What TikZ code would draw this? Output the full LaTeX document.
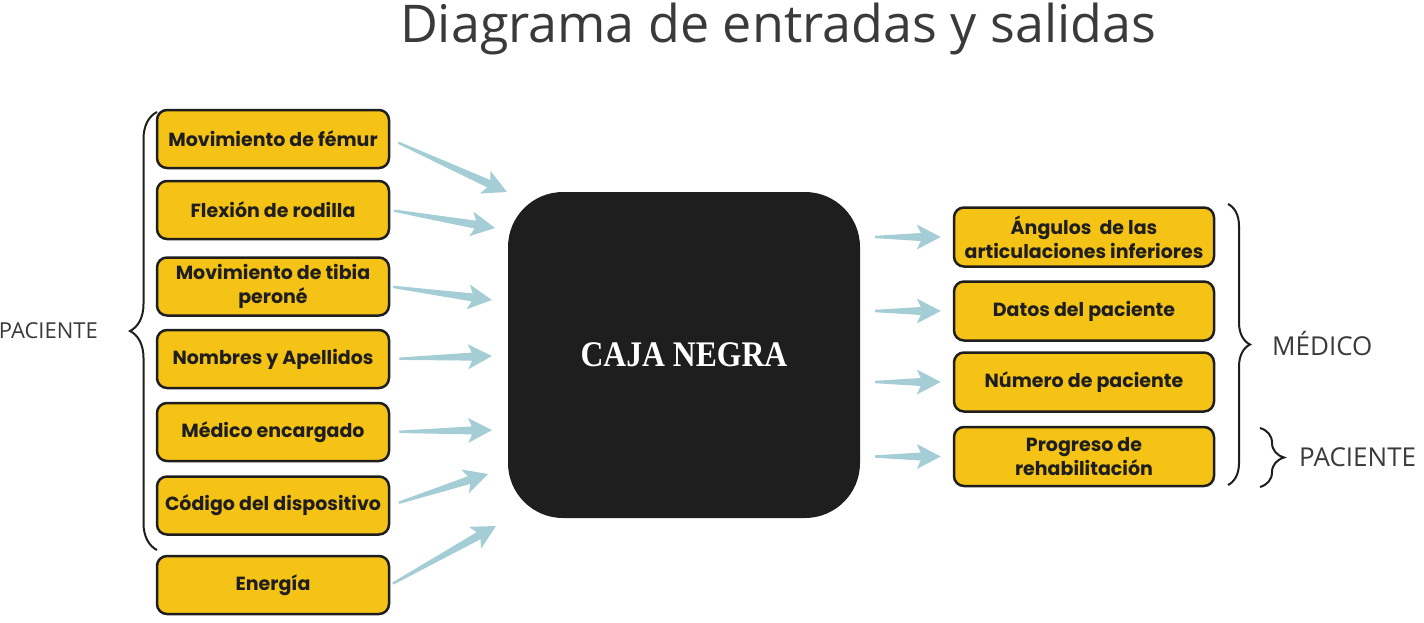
\documentclass[tikz,border=0pt]{standalone}
\usepackage{fontspec}
\setmainfont{Open Sans}
\newfontfamily\labelfont{Poppins}
\newfontfamily\cajafont[FakeStretch=0.88]{Liberation Serif}
\usetikzlibrary{calc,positioning,decorations.pathreplacing}
\definecolor{gold}{HTML}{F5C216}
\definecolor{ink}{HTML}{1E1E1E}
\definecolor{feedblue}{HTML}{A5CDD5}
\definecolor{greytext}{HTML}{3A3A3A}
\tikzset{
  inbox/.style={draw=ink,fill=gold,line width=2.5pt,rounded corners=10pt,
    minimum width=232pt,minimum height=58pt,align=center,inner sep=0pt,
    text=ink,font=\labelfont\bfseries\fontsize{19}{24}\selectfont},
  outbox/.style={inbox,minimum width=260pt,minimum height=59pt},
  blackbox/.style={fill=ink,rounded corners=55pt,minimum width=352pt,
    minimum height=326pt,text=white,font=\cajafont\bfseries\fontsize{36}{40}\selectfont},
  sidelabel/.style={text=greytext,inner sep=0pt,font=\fontsize{26}{30}\selectfont},
  bracket/.style={draw=ink,line width=2pt,decorate,decoration={brace,amplitude=#1}},
  feed/.style 2 args={to path={let \p1=($(\tikztostart)!#1!(\tikztotarget)$),
    \p2=($(\tikztotarget)!#2!(\tikztostart)$),\n1={atan2(\y2-\y1,\x2-\x1)} in
    ($(\p1)+({\n1+90}:1.2pt)$) -- ($(\p2)+(\n1:-20pt)+({\n1+90}:4pt)$)
    -- ($(\p2)+(\n1:-24pt)+({\n1+90}:12.5pt)$) -- (\p2)
    -- ($(\p2)+(\n1:-24pt)+({\n1-90}:12.5pt)$) -- ($(\p2)+(\n1:-20pt)+({\n1-90}:4pt)$)
    -- ($(\p1)+({\n1-90}:1.2pt)$) -- cycle}}}
\begin{document}
\begin{tikzpicture}[x=1pt,y=-1pt]
\useasboundingbox (0,0) rectangle (1424,622);
\node[anchor=base,text=greytext,font=\fontsize{52}{58}\selectfont] (title) at (778,42) {Diagrama de entradas y salidas};
% entradas
\node[inbox] (m1) at (273,139) {Movimiento de fémur};
\node[inbox] (m2) at (273,210) {Flexión de rodilla};
\node[inbox] (m3) at (273,286.5) {Movimiento de tibia\\peroné};
\node[inbox] (m4) at (273,359) {Nombres y Apellidos};
\node[inbox] (m5) at (273,432) {Médico encargado};
\node[inbox] (m6) at (273,505.5) {Código del dispositivo};
\node[inbox] (m7) at (273,585) {Energía};
\node[blackbox] (caja) at (684,355) {CAJA NEGRA};
% salidas
\node[outbox] (s1) at (1084,237) {Ángulos~ de las\\articulaciones inferiores};
\node[outbox] (s2) at (1084,311) {Datos del paciente};
\node[outbox] (s3) at (1084,382) {Número de paciente};
\node[outbox] (s4) at (1084,456.5) {Progreso de\\rehabilitación};
% flechas
\coordinate (in1) at (507,192);\coordinate (in2) at (495,228);
\coordinate (in3) at (492,300);\coordinate (in4) at (492,356);
\coordinate (in5) at (492,430);\coordinate (in6) at (488,474);
\coordinate (in7) at (496,526);
\fill[feedblue] (m1.east) to[feed={9pt}{0pt}] (in1);
\fill[feedblue] (m2.east) to[feed={4pt}{0pt}] (in2);
\fill[feedblue] (m3.east) to[feed={3pt}{0pt}] (in3);
\fill[feedblue] (m4.east) to[feed={9pt}{0pt}] (in4);
\fill[feedblue] (m5.east) to[feed={9pt}{0pt}] (in5);
\fill[feedblue] (m6.east) to[feed={9pt}{0pt}] (in6);
\fill[feedblue] (m7.east) to[feed={3pt}{0pt}] (in7);
\fill[feedblue] (caja.east |- s1) to[feed={15pt}{12pt}] (s1.west);
\fill[feedblue] (caja.east |- s2) to[feed={15pt}{12pt}] (s2.west);
\fill[feedblue] (caja.east |- s3) to[feed={15pt}{12pt}] (s3.west);
\fill[feedblue] (caja.east |- s4) to[feed={15pt}{12pt}] (s4.west);
% llaves
\draw[bracket=27pt] (157,550) -- (157,112);
\node[sidelabel,anchor=east,font=\fontsize{22}{26}\selectfont] (pac1) at (98,331) {PACIENTE};
\draw[bracket=22pt] (1228,204) -- (1228,485);
\node[sidelabel,anchor=west] (med) at (1272,344) {MÉDICO};
\draw[bracket=24pt] (1260,428) -- (1260,487);
\node[sidelabel,anchor=west] (pac2) at (1299,457) {PACIENTE};
\end{tikzpicture}
\end{document}
